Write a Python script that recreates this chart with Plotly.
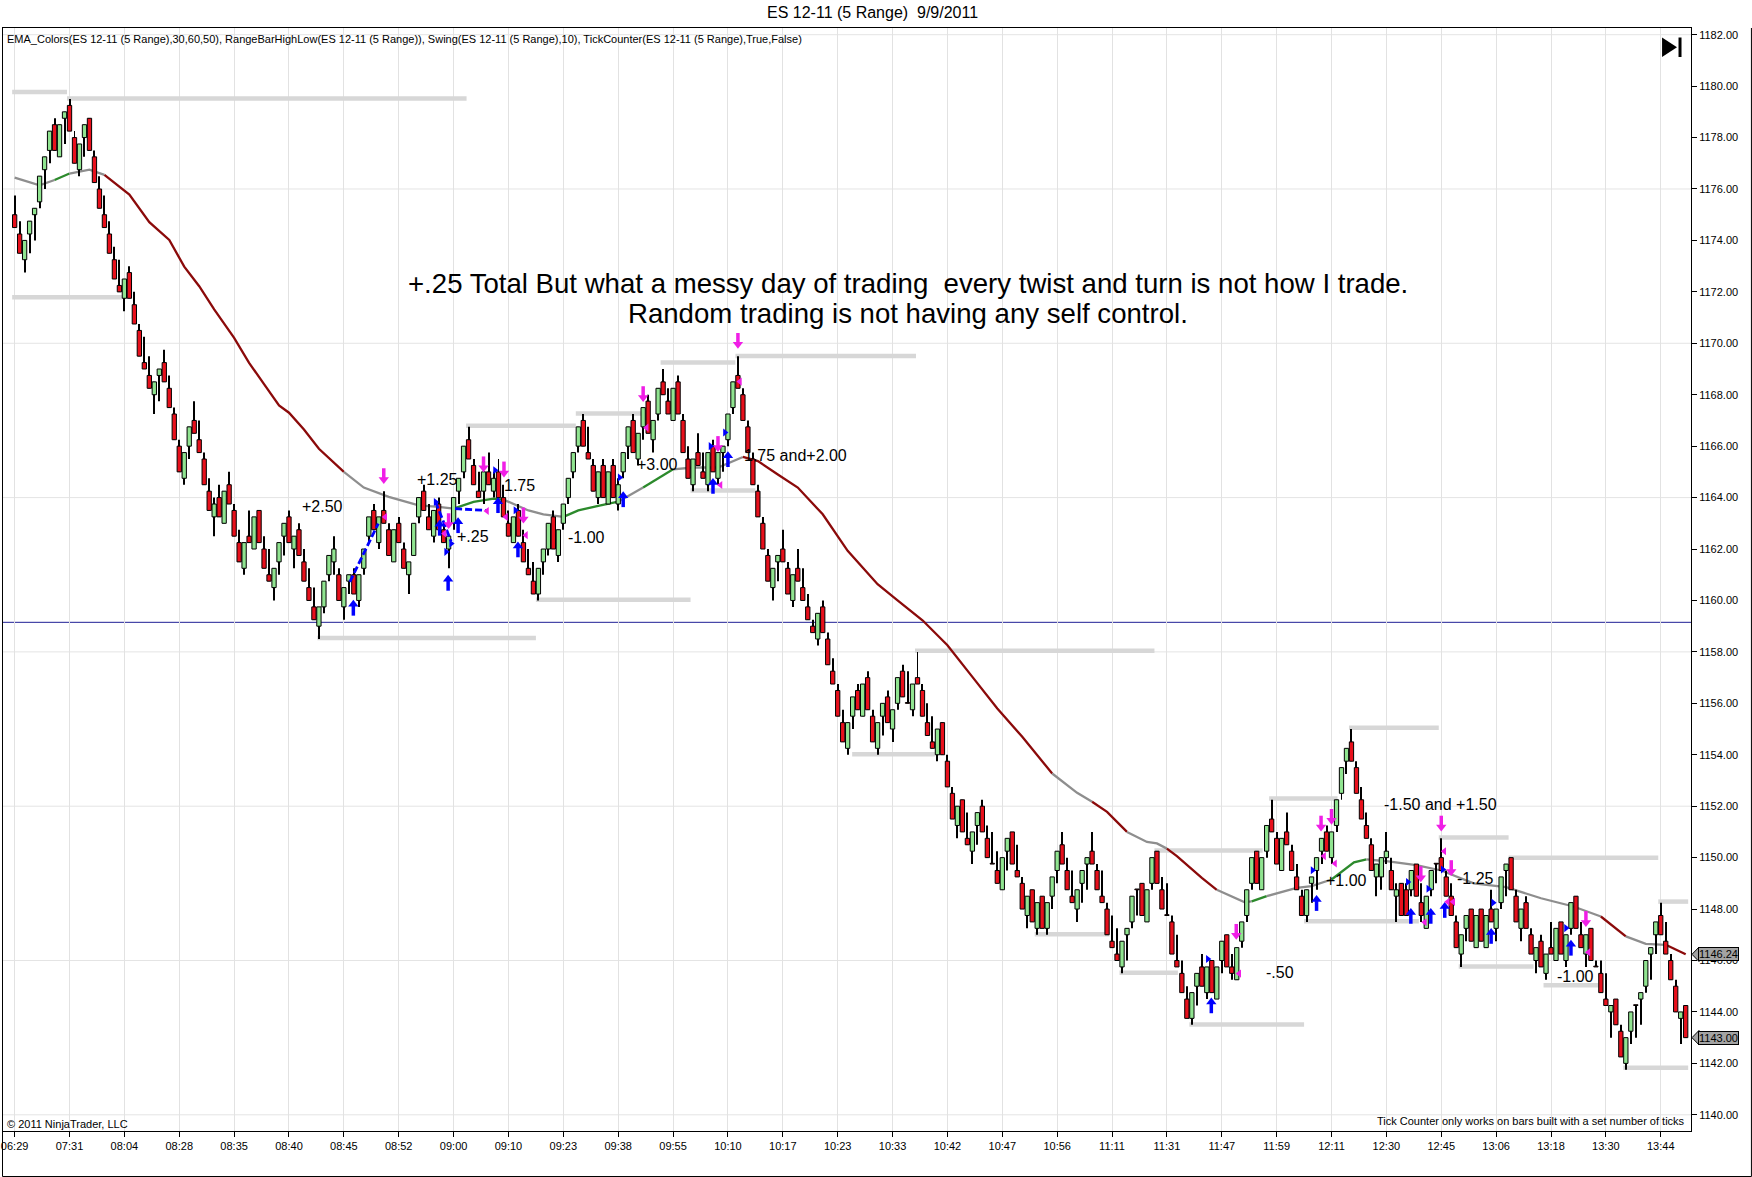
import plotly.graph_objects as go

# === Range bars (ES 12-11, 5 Range, 9/9/2011) ===
opens = [
    1175.0, 1174.25, 1173.25, 1174.25, 1175.0, 1175.5, 1176.75, 1177.5, 1178.5, 1177.25,
    1178.75, 1179.25, 1178.0, 1176.75, 1178.0, 1178.75, 1177.25, 1176.0, 1175.0, 1174.25,
    1173.25, 1172.25, 1171.75, 1172.75, 1171.5, 1170.5, 1169.25, 1168.75, 1168.0, 1168.75,
    1169.25, 1168.25, 1167.25, 1166.0, 1164.75, 1166.0, 1167.0, 1166.25, 1165.5, 1164.25,
    1163.25, 1164.0, 1163.0, 1164.5, 1163.5, 1162.25, 1161.25, 1162.5, 1162.0, 1163.5,
    1162.0, 1161.0, 1160.5, 1161.5, 1162.5, 1163.25, 1162.0, 1162.75, 1161.5, 1160.5,
    1159.75, 1159.0, 1159.75, 1161.0, 1161.5, 1161.0, 1159.75, 1160.75, 1161.0, 1160.0,
    1161.25, 1162.5, 1163.5, 1162.25, 1163.5, 1162.75, 1161.5, 1163.0, 1162.0, 1161.0,
    1161.75, 1163.25, 1164.25, 1163.25, 1162.5, 1163.75, 1162.75, 1162.0, 1163.0, 1164.25,
    1165.0, 1166.25, 1165.25, 1164.25, 1164.25, 1165.0, 1164.25, 1165.0, 1164.0, 1163.0,
    1162.25, 1163.5, 1162.25, 1161.25, 1160.75, 1160.25, 1161.5, 1162.0, 1163.25, 1161.75,
    1163.0, 1164.0, 1165.0, 1166.0, 1167.0, 1165.75, 1165.25, 1164.0, 1165.25, 1163.75,
    1165.25, 1163.75, 1165.0, 1166.0, 1167.0, 1165.5, 1166.75, 1167.75, 1166.25, 1167.25,
    1168.5, 1167.75, 1167.0, 1168.5, 1167.0, 1165.5, 1164.5, 1165.75, 1165.0, 1164.5,
    1166.0, 1164.75, 1165.75, 1166.25, 1167.5, 1168.75, 1168.0, 1166.75, 1165.5, 1164.25,
    1163.0, 1161.75, 1160.5, 1161.5, 1162.0, 1161.25, 1160.0, 1161.25, 1160.5, 1159.75,
    1159.0, 1158.5, 1159.75, 1158.5, 1157.25, 1156.5, 1155.25, 1154.25, 1155.5, 1156.5,
    1155.5, 1157.0, 1155.5, 1154.25, 1155.5, 1156.25, 1155.0, 1156.0, 1157.25, 1156.0,
    1155.75, 1157.0, 1156.5, 1155.25, 1154.5, 1154.0, 1155.25, 1153.75, 1152.5, 1151.25,
    1152.25, 1150.75, 1150.25, 1151.25, 1152.0, 1150.75, 1149.75, 1149.5, 1148.75, 1150.25,
    1151.0, 1149.5, 1149.0, 1147.75, 1148.75, 1147.25, 1148.5, 1147.25, 1148.5, 1149.5,
    1150.5, 1149.5, 1148.5, 1148.0, 1149.0, 1149.75, 1150.25, 1149.5, 1148.5, 1148.0,
    1146.75, 1146.25, 1145.75, 1147.0, 1147.5, 1148.75, 1149.0, 1147.5, 1149.0, 1150.25,
    1148.75, 1147.75, 1147.5, 1146.0, 1145.5, 1144.5, 1143.75, 1145.0, 1145.75, 1144.75,
    1146.0, 1144.5, 1146.0, 1147.0, 1145.75, 1145.25, 1146.75, 1147.75, 1149.0, 1150.25,
    1148.75, 1150.25, 1151.5, 1150.75, 1149.5, 1151.0, 1150.25, 1149.25, 1148.5, 1147.75,
    1149.0, 1149.5, 1150.25, 1151.0, 1150.0, 1151.25, 1152.5, 1153.75, 1154.5, 1153.5,
    1152.25, 1151.25, 1150.5, 1149.25, 1149.25, 1150.0, 1149.5, 1148.5, 1149.0, 1148.75,
    1148.75, 1149.75, 1148.25, 1147.25, 1148.75, 1149.75, 1150.0, 1149.25, 1148.5, 1147.5,
    1146.25, 1147.25, 1148.0, 1146.5, 1148.0, 1146.5, 1148.0, 1147.25, 1148.25, 1149.5,
    1150.0, 1148.5, 1147.25, 1148.25, 1147.0, 1146.0, 1146.75, 1145.5, 1146.5, 1146.0,
    1147.5, 1146.0, 1147.25, 1148.5, 1147.0, 1146.25, 1147.25, 1145.75, 1145.5, 1144.5,
    1144.0, 1144.5, 1143.25, 1142.0, 1143.25, 1144.25, 1144.5, 1145.0, 1146.25, 1147.0,
    1147.75, 1146.75, 1146.0, 1145.0, 1143.75, 1144.25,
]
highs = [
    1175.75, 1174.75, 1174.0, 1174.75, 1175.25, 1176.5, 1177.25, 1178.25, 1178.75, 1178.5,
    1179.0, 1179.5, 1178.25, 1177.75, 1178.5, 1178.75, 1177.5, 1176.5, 1175.75, 1174.75,
    1173.75, 1173.25, 1172.5, 1173.0, 1172.0, 1170.75, 1170.25, 1169.5, 1168.5, 1169.0,
    1169.75, 1168.75, 1167.5, 1166.25, 1165.75, 1166.75, 1167.75, 1167.0, 1165.75, 1164.75,
    1164.0, 1164.5, 1164.25, 1165.0, 1163.75, 1162.75, 1162.25, 1163.5, 1163.25, 1163.5,
    1162.5, 1162.0, 1161.25, 1162.25, 1163.0, 1163.5, 1162.5, 1163.0, 1162.0, 1161.25,
    1160.5, 1159.75, 1160.75, 1161.75, 1162.5, 1161.25, 1160.5, 1161.0, 1161.25, 1161.0,
    1162.0, 1163.25, 1163.75, 1163.25, 1164.25, 1163.0, 1162.75, 1163.25, 1162.25, 1161.5,
    1163.0, 1164.0, 1164.5, 1163.75, 1163.5, 1164.0, 1163.0, 1162.5, 1164.0, 1164.75,
    1166.0, 1166.75, 1165.5, 1165.0, 1165.0, 1165.75, 1165.0, 1165.5, 1164.5, 1163.5,
    1163.25, 1163.75, 1162.75, 1162.0, 1161.5, 1161.25, 1162.0, 1163.0, 1163.5, 1162.75,
    1163.75, 1164.75, 1165.75, 1166.75, 1167.25, 1166.75, 1165.5, 1165.0, 1165.5, 1165.0,
    1165.5, 1164.75, 1165.75, 1166.75, 1167.25, 1166.5, 1167.5, 1168.0, 1167.0, 1168.25,
    1169.0, 1168.25, 1168.25, 1168.75, 1167.25, 1166.0, 1165.5, 1166.5, 1165.75, 1165.75,
    1166.25, 1165.75, 1166.0, 1167.25, 1168.5, 1169.5, 1168.25, 1167.0, 1165.75, 1164.5,
    1163.25, 1162.0, 1161.25, 1161.75, 1162.75, 1161.5, 1161.0, 1162.0, 1161.25, 1160.25,
    1159.25, 1159.5, 1160.0, 1158.75, 1157.75, 1156.75, 1155.75, 1155.25, 1156.25, 1156.75,
    1156.75, 1157.25, 1155.75, 1155.25, 1156.0, 1156.5, 1155.75, 1157.0, 1157.5, 1157.25,
    1156.75, 1158.0, 1156.75, 1156.0, 1155.5, 1155.0, 1155.25, 1154.0, 1152.75, 1152.0,
    1152.25, 1151.75, 1151.0, 1151.75, 1152.25, 1151.25, 1151.0, 1150.25, 1150.0, 1150.75,
    1151.0, 1150.5, 1149.25, 1148.5, 1148.75, 1148.25, 1148.5, 1148.25, 1149.25, 1150.25,
    1151.0, 1150.0, 1149.5, 1148.75, 1149.5, 1150.0, 1151.0, 1149.75, 1149.5, 1148.25,
    1147.75, 1147.25, 1146.75, 1147.25, 1148.5, 1148.75, 1149.0, 1148.75, 1150.0, 1150.25,
    1149.25, 1149.0, 1147.75, 1147.0, 1146.0, 1145.0, 1144.75, 1145.5, 1146.25, 1145.75,
    1146.0, 1145.75, 1146.75, 1147.0, 1146.25, 1146.5, 1147.5, 1148.75, 1150.0, 1150.25,
    1150.0, 1151.25, 1152.25, 1151.0, 1150.75, 1151.75, 1150.5, 1149.75, 1148.75, 1148.75,
    1149.25, 1150.0, 1150.75, 1151.25, 1151.0, 1152.25, 1153.5, 1154.25, 1155.0, 1153.75,
    1152.75, 1151.75, 1150.75, 1149.75, 1150.0, 1151.0, 1150.0, 1149.0, 1149.0, 1149.0,
    1149.5, 1149.75, 1149.0, 1148.5, 1149.5, 1149.75, 1150.75, 1149.5, 1149.0, 1147.75,
    1147.0, 1147.75, 1148.0, 1147.75, 1148.0, 1147.75, 1148.75, 1148.0, 1149.25, 1149.75,
    1150.0, 1148.75, 1148.0, 1148.5, 1147.25, 1146.5, 1147.0, 1146.25, 1147.5, 1147.25,
    1147.5, 1147.0, 1148.25, 1148.5, 1147.5, 1147.0, 1147.25, 1146.0, 1146.0, 1145.5,
    1144.25, 1144.5, 1143.5, 1143.0, 1144.0, 1144.25, 1144.75, 1146.0, 1146.5, 1147.5,
    1148.25, 1147.5, 1146.25, 1145.25, 1144.0, 1144.25,
]
lows = [
    1174.5, 1173.5, 1172.75, 1173.5, 1174.0, 1175.25, 1176.0, 1177.0, 1177.5, 1177.25,
    1177.75, 1178.25, 1177.0, 1176.5, 1177.25, 1177.5, 1176.25, 1175.25, 1174.5, 1173.5,
    1172.5, 1172.0, 1171.25, 1171.75, 1170.75, 1169.5, 1169.0, 1168.25, 1167.25, 1167.75,
    1168.5, 1167.5, 1166.25, 1165.0, 1164.5, 1165.5, 1166.5, 1165.75, 1164.5, 1163.5,
    1162.5, 1163.25, 1163.0, 1163.75, 1162.5, 1161.5, 1161.0, 1162.25, 1162.0, 1162.25,
    1161.25, 1160.75, 1160.0, 1161.0, 1161.75, 1162.25, 1161.25, 1161.75, 1160.75, 1160.0,
    1159.25, 1158.5, 1159.5, 1160.75, 1161.0, 1160.0, 1159.25, 1160.25, 1160.25, 1159.75,
    1161.0, 1162.25, 1162.75, 1162.0, 1163.0, 1161.75, 1161.5, 1162.25, 1161.25, 1160.25,
    1161.75, 1163.0, 1163.5, 1162.75, 1162.25, 1162.75, 1162.25, 1161.25, 1162.75, 1163.75,
    1164.75, 1165.5, 1164.5, 1164.0, 1163.75, 1164.5, 1164.0, 1164.0, 1163.25, 1162.5,
    1162.25, 1162.5, 1161.5, 1161.0, 1160.25, 1160.0, 1161.0, 1161.75, 1162.0, 1161.5,
    1162.75, 1163.75, 1164.75, 1165.75, 1166.0, 1165.5, 1164.25, 1163.75, 1164.0, 1163.75,
    1164.0, 1163.5, 1164.75, 1165.5, 1165.75, 1165.25, 1166.25, 1166.5, 1165.75, 1167.0,
    1168.0, 1167.25, 1167.0, 1167.25, 1165.75, 1164.75, 1164.25, 1165.25, 1164.75, 1164.25,
    1165.0, 1164.5, 1165.0, 1166.0, 1167.25, 1168.25, 1167.0, 1165.75, 1164.5, 1163.25,
    1162.0, 1160.75, 1160.0, 1160.75, 1161.5, 1160.25, 1159.75, 1160.75, 1160.0, 1159.25,
    1158.75, 1158.25, 1158.75, 1157.5, 1156.75, 1155.5, 1154.5, 1154.0, 1155.0, 1155.75,
    1155.5, 1155.75, 1154.5, 1154.0, 1154.75, 1155.25, 1154.5, 1155.75, 1156.25, 1156.0,
    1155.5, 1156.75, 1155.5, 1154.75, 1154.25, 1153.75, 1154.0, 1152.75, 1151.5, 1150.75,
    1151.0, 1150.5, 1149.75, 1150.5, 1151.0, 1150.0, 1149.75, 1149.0, 1148.75, 1149.5,
    1149.75, 1149.25, 1148.0, 1147.25, 1147.5, 1147.0, 1147.25, 1147.0, 1148.0, 1149.0,
    1149.75, 1148.75, 1148.25, 1147.5, 1148.25, 1148.75, 1149.75, 1148.75, 1148.25, 1147.0,
    1146.5, 1146.0, 1145.5, 1146.0, 1147.25, 1147.75, 1147.75, 1147.5, 1148.75, 1149.0,
    1148.0, 1147.75, 1146.25, 1145.75, 1144.75, 1143.75, 1143.5, 1144.25, 1145.0, 1144.5,
    1144.75, 1144.5, 1145.5, 1145.75, 1145.25, 1145.25, 1146.5, 1147.5, 1148.75, 1149.0,
    1148.75, 1150.0, 1151.0, 1149.75, 1149.5, 1150.5, 1149.5, 1148.75, 1147.75, 1147.5,
    1148.25, 1148.75, 1149.75, 1150.25, 1149.75, 1151.0, 1152.25, 1153.25, 1153.75, 1152.5,
    1151.5, 1150.75, 1149.5, 1148.5, 1148.75, 1149.75, 1148.75, 1147.5, 1147.75, 1147.75,
    1148.5, 1148.5, 1147.5, 1147.25, 1148.5, 1149.0, 1149.5, 1148.5, 1147.75, 1146.5,
    1145.75, 1146.75, 1146.75, 1146.5, 1146.75, 1146.5, 1147.5, 1146.75, 1148.0, 1148.5,
    1148.75, 1147.5, 1146.75, 1147.25, 1146.25, 1145.5, 1145.75, 1145.25, 1146.25, 1146.0,
    1146.25, 1145.75, 1147.0, 1147.25, 1146.5, 1145.75, 1146.0, 1145.75, 1144.75, 1144.25,
    1143.0, 1143.5, 1142.25, 1141.75, 1142.75, 1143.0, 1143.5, 1144.75, 1145.25, 1146.25,
    1147.0, 1146.25, 1145.25, 1144.0, 1142.75, 1143.0,
]
closes = [
    1174.5, 1173.5, 1174.0, 1174.75, 1175.25, 1176.5, 1177.25, 1178.25, 1177.5, 1178.5,
    1179.0, 1178.25, 1177.0, 1177.75, 1178.5, 1177.5, 1176.25, 1175.25, 1174.5, 1173.5,
    1172.5, 1172.0, 1172.5, 1171.75, 1170.75, 1169.5, 1169.0, 1168.25, 1168.5, 1169.0,
    1168.5, 1167.5, 1166.25, 1165.0, 1165.75, 1166.75, 1166.5, 1165.75, 1164.5, 1163.5,
    1163.75, 1163.25, 1164.25, 1163.75, 1162.5, 1161.5, 1162.25, 1162.25, 1163.25, 1162.25,
    1161.25, 1160.75, 1161.25, 1162.25, 1163.0, 1162.25, 1162.5, 1161.75, 1160.75, 1160.0,
    1159.25, 1159.75, 1160.75, 1161.75, 1162.0, 1160.0, 1160.5, 1161.0, 1160.25, 1161.0,
    1162.0, 1163.25, 1162.75, 1163.25, 1163.0, 1161.75, 1162.75, 1162.25, 1161.25, 1161.5,
    1163.0, 1164.0, 1163.5, 1162.75, 1163.5, 1162.75, 1162.25, 1162.5, 1164.0, 1164.75,
    1166.0, 1165.5, 1164.5, 1164.0, 1165.0, 1164.5, 1164.75, 1164.0, 1163.25, 1162.5,
    1163.25, 1162.5, 1161.5, 1161.0, 1160.25, 1161.25, 1162.0, 1163.0, 1162.0, 1162.75,
    1163.75, 1164.75, 1165.75, 1166.75, 1166.0, 1165.5, 1164.25, 1165.0, 1164.0, 1165.0,
    1164.0, 1164.5, 1165.75, 1166.75, 1165.75, 1166.5, 1167.5, 1166.5, 1167.0, 1168.25,
    1168.0, 1167.25, 1168.25, 1167.25, 1165.75, 1164.75, 1165.5, 1165.25, 1164.75, 1165.75,
    1165.0, 1165.75, 1166.0, 1167.25, 1168.5, 1168.25, 1167.0, 1165.75, 1164.5, 1163.25,
    1162.0, 1160.75, 1161.25, 1161.75, 1161.5, 1160.25, 1161.0, 1160.75, 1160.0, 1159.25,
    1158.75, 1159.5, 1158.75, 1157.5, 1156.75, 1155.5, 1154.5, 1155.25, 1156.25, 1155.75,
    1156.75, 1155.75, 1154.5, 1155.25, 1156.0, 1155.25, 1155.75, 1157.0, 1156.25, 1156.0,
    1156.75, 1156.75, 1155.5, 1154.75, 1154.25, 1155.0, 1154.0, 1152.75, 1151.5, 1152.0,
    1151.0, 1150.5, 1151.0, 1151.75, 1151.0, 1150.0, 1149.75, 1149.0, 1150.0, 1150.75,
    1149.75, 1149.25, 1148.0, 1148.5, 1147.5, 1148.25, 1147.25, 1148.25, 1149.25, 1150.25,
    1149.75, 1148.75, 1148.25, 1148.75, 1149.5, 1150.0, 1149.75, 1148.75, 1148.25, 1147.0,
    1146.5, 1146.0, 1146.75, 1147.25, 1148.5, 1148.75, 1147.75, 1148.75, 1150.0, 1149.0,
    1148.0, 1147.75, 1146.25, 1145.75, 1144.75, 1143.75, 1144.75, 1145.5, 1145.0, 1145.75,
    1144.75, 1145.75, 1146.75, 1145.75, 1145.5, 1146.5, 1147.5, 1148.75, 1150.0, 1149.0,
    1150.0, 1151.25, 1151.0, 1149.75, 1150.75, 1150.5, 1149.5, 1148.75, 1147.75, 1148.75,
    1149.25, 1150.0, 1150.75, 1150.25, 1151.0, 1152.25, 1153.5, 1154.25, 1153.75, 1152.5,
    1151.5, 1150.75, 1149.5, 1149.75, 1150.0, 1150.25, 1148.75, 1148.75, 1147.75, 1147.75,
    1149.5, 1148.5, 1147.75, 1148.5, 1149.5, 1149.75, 1149.5, 1148.5, 1147.75, 1146.5,
    1147.0, 1147.75, 1146.75, 1147.75, 1146.75, 1147.75, 1147.5, 1148.0, 1149.25, 1149.75,
    1148.75, 1147.5, 1148.0, 1147.25, 1146.25, 1146.5, 1145.75, 1146.25, 1146.25, 1147.25,
    1146.25, 1147.0, 1148.25, 1147.25, 1146.5, 1147.0, 1146.0, 1145.75, 1144.75, 1144.25,
    1144.25, 1143.5, 1142.25, 1143.0, 1144.0, 1144.25, 1144.75, 1146.0, 1146.5, 1147.5,
    1147.0, 1146.25, 1145.25, 1144.0, 1144.0, 1143.0,
]

# time labels, one every 11 bars
time_labels = ["06:29", "07:31", "08:04", "08:28", "08:35", "08:40", "08:45", "08:52",
               "09:00", "09:10", "09:23", "09:38", "09:55", "10:10", "10:17", "10:23",
               "10:33", "10:42", "10:47", "10:56", "11:11", "11:31", "11:47", "11:59",
               "12:11", "12:30", "12:45", "13:06", "13:18", "13:30", "13:44"]
label_every = 11

# === EMA_Colors line (sampled) and the colour of the segment starting at each point ===
ema_bar = [0, 5, 8, 11, 15, 18, 23, 27, 31, 34, 37, 40, 44, 47, 50, 53, 55, 58, 61, 66,
           70, 75, 81, 85, 88, 92, 96, 98, 103, 106, 110, 113, 117, 121, 126, 132, 136, 141,
           146, 149, 153, 157, 162, 167, 173, 177, 182, 187, 192, 197, 202, 208, 213, 216,
           219, 223, 227, 229, 231, 233, 238, 241, 246.5, 248, 251, 257, 260, 264, 268.5,
           271, 275, 281, 286, 292.5, 299, 306, 312.5, 318, 323, 327, 331, 335]
ema_val = [1176.44, 1176.14, 1176.35, 1176.6, 1176.75, 1176.55, 1175.78, 1174.71, 1174.02,
           1172.98, 1172.22, 1171.32, 1170.21, 1169.24, 1168.41, 1167.58, 1167.3, 1166.65,
           1165.9, 1165.0, 1164.39, 1164.03, 1163.7, 1163.64, 1163.57, 1163.83, 1163.96,
           1163.92, 1163.5, 1163.35, 1163.25, 1163.5, 1163.68, 1163.84, 1164.39, 1165.1,
           1165.17, 1165.17, 1165.58, 1165.42, 1164.9, 1164.39, 1163.35, 1161.93, 1160.63,
           1160.0, 1159.23, 1158.26, 1157.03, 1155.8, 1154.7, 1153.27, 1152.52, 1152.17,
           1151.78, 1151.0, 1150.61, 1150.55, 1150.35, 1150.06, 1149.21, 1148.75, 1148.27,
           1148.3, 1148.5, 1148.82, 1148.89, 1149.15, 1149.82, 1149.93, 1149.86, 1149.71,
           1149.5, 1149.0, 1148.85, 1148.42, 1148.1, 1147.71, 1146.94, 1146.65, 1146.61,
           1146.24]
ema_col = ["n", "n", "g", "n", "n", "r", "r", "r", "r", "r", "r", "r", "r", "r", "r", "r",
           "r", "r", "r", "n", "n", "n", "n", "n", "g", "g", "g", "n", "n", "n", "g", "g",
           "g", "n", "g", "n", "n", "n", "r", "r", "r", "r", "r", "r", "r", "r", "r", "r",
           "r", "r", "r", "n", "n", "r", "r", "n", "n", "n", "r", "r", "r", "n", "n", "g",
           "n", "n", "n", "g", "g", "n", "n", "n", "n", "n", "n", "n", "n", "r", "n", "n",
           "r", "r"]

# === RangeBarHighLow / Swing levels (start bar, end bar, price) ===
swing_x0 = [-0.5, 10.5, -0.5, 60.7, 90.5, 112.5, 104.5, 129.5, 144.5, 135.5, 167.9, 180.5,
            204.5, 221.5, 228.5, 235.5, 251.5, 258.5, 267.5, 285.5, 299.5, 289.5, 306.5,
            329.5, 322.5]
swing_x1 = [10.5, 90.6, 21.5, 104.5, 112.5, 126, 135.5, 144.5, 180.7, 148.5, 184.5, 228.5,
            219.5, 233.2, 250.2, 258.5, 265.2, 281.5, 285.5, 299.5, 329.5, 304.5, 317.5,
            335.5, 335.5]
swing_y = [1179.77, 1179.52, 1171.79, 1158.54, 1166.79, 1167.27, 1160.03, 1169.25, 1169.51,
           1164.28, 1154.02, 1158.04, 1147.02, 1145.52, 1150.28, 1143.51, 1152.3, 1147.53,
           1155.05, 1150.78, 1150.0, 1145.77, 1145.04, 1148.29, 1141.83]

hline_price = 1159.15

# === trade marks ===
buy_arrow_x = [67.9, 85.2, 86.9, 88.9, 96.9, 100.9, 122, 140, 143, 239.9, 261, 279.9, 283.9,
               286.7, 296, 312]
buy_arrow_y = [1159.75, 1162.86, 1160.72, 1162.96, 1163.74, 1162.02, 1163.97, 1164.49,
               1165.53, 1144.29, 1148.27, 1147.77, 1147.77, 1148.0, 1146.99, 1146.53]
buy_tri_x = [84.4, 86.5, 87.5, 96.3, 100.4, 121.3, 139.5, 142.4, 239.2, 260.2, 279.3, 283.4,
             286.3, 296.4, 311]
buy_tri_y = [1163.83, 1161.89, 1162.21, 1165.06, 1163.51, 1164.78, 1166.0, 1166.53, 1146.06,
             1149.51, 1149.05, 1148.79, 1149.54, 1148.25, 1147.26]
sell_arrow_x = [74, 87, 94, 98.1, 102, 126, 141, 145, 244.9, 261.9, 264, 281.9, 286, 288, 315]
sell_arrow_y = [1164.8, 1163.05, 1165.26, 1165.06, 1163.27, 1167.99, 1166.05, 1170.06,
                1147.08, 1151.29, 1151.55, 1149.32, 1151.29, 1149.56, 1147.58]
sell_tri_x = [74.3, 86.2, 94.7, 98.5, 102.5, 126.7, 141.5, 145.4, 245.5, 262.5, 264.7, 282.7,
              286.6, 287.3, 288.4, 315.5]
sell_tri_y = [1163.25, 1162.6, 1163.48, 1163.25, 1162.54, 1166.72, 1164.49, 1168.51, 1145.49,
              1150.06, 1149.77, 1147.49, 1150.25, 1148.28, 1148.28, 1146.32]

# blue dashed trade lines: (x0, x1, y0, y1)
dash_x0 = [67.2, 84.4, 88.3]
dash_x1 = [72.9, 87.5, 94.5]
dash_y0 = [1160.72, 1163.83, 1163.57]
dash_y1 = [1162.99, 1162.3, 1163.5]

# tick counter notes
note_text = ["+2.50", "+1.25", "1.75", "+.25", "-1.00", "+3.00", "1.75 and+2.00", "-.50",
             "+1.00", "-1.50 and +1.50", "-1.25", "-1.00"]
note_x = [61.8, 84.7, 101.2, 91.9, 114.7, 128.9, 156.5, 253.7, 267, 285.9, 292.9, 312.9]
note_y = [1163.67, 1164.71, 1164.48, 1162.47, 1162.45, 1165.3, 1165.62, 1145.52, 1149.11,
          1152.07, 1149.2, 1145.38]

comment_lines = ["+.25 Total But what a messy day of trading\u00a0 every twist and turn is not how I trade.",
                 "Random trading is not having any self control."]
comment_x = 179
comment_y = [1172.31, 1171.14]

last_ema = 1146.24
last_close = 1143.00

# === page geometry (pixels) ===
W, H = 1752, 1177
PL, PR, PT, PB = 1, 1691, 28, 1131
FONT = "Liberation Sans, Arial, sans-serif"
UP_FILL, DOWN_FILL = "#90e490", "#e8101c"


def px_x(px):
    return (px - PL) / (PR - PL)


def px_y(py):
    return (PB - py) / (PB - PT)


fig = go.Figure()
shapes = []

# horizontal grid every 6 points (under the vertical grid)
for lvl in range(1140, 1183, 6):
    shapes.append(dict(type="line", xref="paper", x0=0, x1=1, yref="y", y0=lvl, y1=lvl,
                       line=dict(color="#e4e4e4", width=1), layer="below"))

# everything that sits between the grid and the candles
shapes.append(dict(type="line", xref="paper", x0=0, x1=1, yref="y", y0=hline_price,
                   y1=hline_price, line=dict(color="#1f1f95", width=1), layer="between"))
for a, b, p in zip(swing_x0, swing_x1, swing_y):
    shapes.append(dict(type="line", xref="x", yref="y", x0=a, x1=b, y0=p, y1=p,
                       line=dict(color="#d7d7d7", width=4.5), layer="between"))

ema_colors = {"r": "#8b0a0a", "g": "#2c8a2c", "n": "#8e8e8e"}
start = 0
for i in range(1, len(ema_bar)):
    if i == len(ema_bar) - 1 or ema_col[i] != ema_col[start]:
        pts = " L ".join(f"{ema_bar[k]},{ema_val[k]}" for k in range(start, i + 1))
        shapes.append(dict(type="path", xref="x", yref="y", path="M " + pts,
                           line=dict(color=ema_colors[ema_col[start]], width=2.3),
                           layer="between"))
        start = i

# candles: wick bars first, bodies on top
bars = list(range(len(opens)))
fig.add_trace(go.Bar(x=bars, base=lows, y=[highs[i] - lows[i] for i in bars], width=0.2,
                     marker=dict(color="#000", line=dict(width=0)), hoverinfo="skip"))
for rising, fill in [(True, UP_FILL), (False, DOWN_FILL)]:
    idx = [i for i in bars if (closes[i] > opens[i]) == rising]
    fig.add_trace(go.Bar(
        x=idx,
        base=[min(opens[i], closes[i]) for i in idx],
        y=[max(abs(closes[i] - opens[i]), 0.03) for i in idx],
        width=0.86, marker=dict(color=fill, line=dict(color="#000", width=1)),
        hoverinfo="skip"))

# blue dashed trade lines
dx, dy = [], []
for a, b, c, d in zip(dash_x0, dash_x1, dash_y0, dash_y1):
    dx += [a, b, None]
    dy += [c, d, None]
fig.add_trace(go.Scatter(x=dx, y=dy, mode="lines", hoverinfo="skip",
                         line=dict(color="#0000ff", width=2.8, dash="7px,3px")))

# trade arrows
fig.add_trace(go.Scatter(x=buy_arrow_x, y=[v - 0.15 for v in buy_arrow_y], mode="markers",
                         hoverinfo="skip",
                         marker=dict(symbol="line-ns", size=7, line=dict(color="#0000ff", width=3.5))))
fig.add_trace(go.Scatter(x=buy_arrow_x, y=[v + 0.1 for v in buy_arrow_y], mode="markers",
                         hoverinfo="skip",
                         marker=dict(symbol="triangle-up", size=9, color="#0000ff")))
fig.add_trace(go.Scatter(x=sell_arrow_x, y=[v + 0.15 for v in sell_arrow_y], mode="markers",
                         hoverinfo="skip",
                         marker=dict(symbol="line-ns", size=7, line=dict(color="#f01ee6", width=3.5))))
fig.add_trace(go.Scatter(x=sell_arrow_x, y=[v - 0.1 for v in sell_arrow_y], mode="markers",
                         hoverinfo="skip",
                         marker=dict(symbol="triangle-down", size=9, color="#f01ee6")))
fig.add_trace(go.Scatter(x=buy_tri_x, y=buy_tri_y, mode="markers", hoverinfo="skip",
                         marker=dict(symbol="triangle-right", size=7, color="#0000ff")))
fig.add_trace(go.Scatter(x=sell_tri_x, y=sell_tri_y, mode="markers", hoverinfo="skip",
                         marker=dict(symbol="triangle-left", size=7, color="#f01ee6")))

annotations = []
for t, x, y in zip(note_text, note_x, note_y):
    annotations.append(dict(x=x, y=y, xref="x", yref="y", text=t, showarrow=False,
                            yanchor="middle", font=dict(family=FONT, size=16, color="#000")))
for t, y in zip(comment_lines, comment_y):
    annotations.append(dict(x=comment_x, y=y, xref="x", yref="y", text=t, showarrow=False,
                            yanchor="middle", font=dict(family=FONT, size=27.6, color="#000")))

annotations += [
    dict(x=px_x(872), y=px_y(13), xref="paper", yref="paper", showarrow=False, yanchor="middle",
         text="ES 12-11 (5 Range)\u00a0 9/9/2011", font=dict(family=FONT, size=16, color="#000")),
    dict(x=px_x(3), y=px_y(39), xref="paper", yref="paper", xanchor="left", yanchor="middle",
         showarrow=False,
         text="EMA_Colors(ES 12-11 (5 Range),30,60,50), RangeBarHighLow(ES 12-11 (5 Range)), "
              "Swing(ES 12-11 (5 Range),10), TickCounter(ES 12-11 (5 Range),True,False)",
         font=dict(family=FONT, size=11, color="#000")),
    dict(x=px_x(3), y=px_y(1124), xref="paper", yref="paper", xanchor="left", yanchor="middle",
         showarrow=False, text="\u00a9 2011 NinjaTrader, LLC",
         font=dict(family=FONT, size=11, color="#000")),
    dict(x=px_x(1687), y=px_y(1121), xref="paper", yref="paper", xanchor="right",
         yanchor="middle", showarrow=False,
         text="Tick Counter only works on bars built with a set number of ticks",
         font=dict(family=FONT, size=11, color="#000")),
]
for p in [last_ema, last_close]:
    annotations.append(dict(x=px_x(1698), y=p, xref="paper", yref="y", xanchor="left",
                            yanchor="middle", text=f"{p:.2f}", showarrow=False,
                            bgcolor="#a3a3a3", bordercolor="#000", borderwidth=1, borderpad=0,
                            font=dict(family=FONT, size=11, color="#000")))

for p in [last_ema, last_close]:
    shapes.append(dict(type="path", xref="paper", yref="y", fillcolor="#a3a3a3",
                       line=dict(color="#000", width=1),
                       path=f"M {px_x(1692)},{p} L {px_x(1699)},{p + 0.28} "
                            f"L {px_x(1699)},{p - 0.28} Z"))
# go-to-end button
shapes.append(dict(type="path", xref="paper", yref="paper", fillcolor="#000", line=dict(width=0),
                   path=f"M {px_x(1662)},{px_y(37.5)} L {px_x(1677)},{px_y(47.3)} "
                        f"L {px_x(1662)},{px_y(57)} Z"))
shapes.append(dict(type="rect", xref="paper", yref="paper", fillcolor="#000", line=dict(width=0),
                   x0=px_x(1678.5), x1=px_x(1681.5), y0=px_y(57), y1=px_y(37.5)))
# outer frame
shapes.append(dict(type="line", xref="paper", yref="paper", x0=px_x(0.5), x1=px_x(0.5),
                   y0=px_y(PT), y1=px_y(1176.5), line=dict(color="#000", width=1)))
shapes.append(dict(type="line", xref="paper", yref="paper", x0=px_x(0.5), x1=px_x(1751.5),
                   y0=px_y(1176.5), y1=px_y(1176.5), line=dict(color="#000", width=1)))
shapes.append(dict(type="line", xref="paper", yref="paper", x0=px_x(1751.5), x1=px_x(1751.5),
                   y0=px_y(PT), y1=px_y(1176.5), line=dict(color="#000", width=1)))

fig.update_layout(
    width=W, height=H,
    margin=dict(l=PL, r=W - PR, t=PT, b=H - PB),
    paper_bgcolor="white", plot_bgcolor="white",
    showlegend=False, hovermode=False, barmode="overlay",
    annotations=annotations, shapes=shapes,
    font=dict(family=FONT, size=11, color="#000"),
    xaxis=dict(range=[(PL - 10.67 - PL) / 5 - 0.2, (PR - 10.67) / 5],
               tickvals=[i * label_every for i in range(len(time_labels))],
               ticktext=time_labels, ticks="outside", ticklen=5, tickcolor="#000",
               ticklabeloverflow="allow",
               showgrid=True, gridcolor="#e2e2e2", gridwidth=1, zeroline=False,
               showline=True, linecolor="#000", linewidth=1, mirror=True,
               tickfont=dict(family=FONT, size=11), fixedrange=True),
    yaxis=dict(range=[1139.37, 1182.26], side="right", dtick=2, tick0=1140,
               tickformat=".2f", ticks="outside", ticklen=5, tickcolor="#000",
               showgrid=False, zeroline=False, showline=True, linecolor="#000",
               linewidth=1, mirror=True, tickfont=dict(family=FONT, size=11),
               fixedrange=True),
)

fig.write_html("out.html", config={"displayModeBar": False},
               post_script="document.body.style.margin='0';")
